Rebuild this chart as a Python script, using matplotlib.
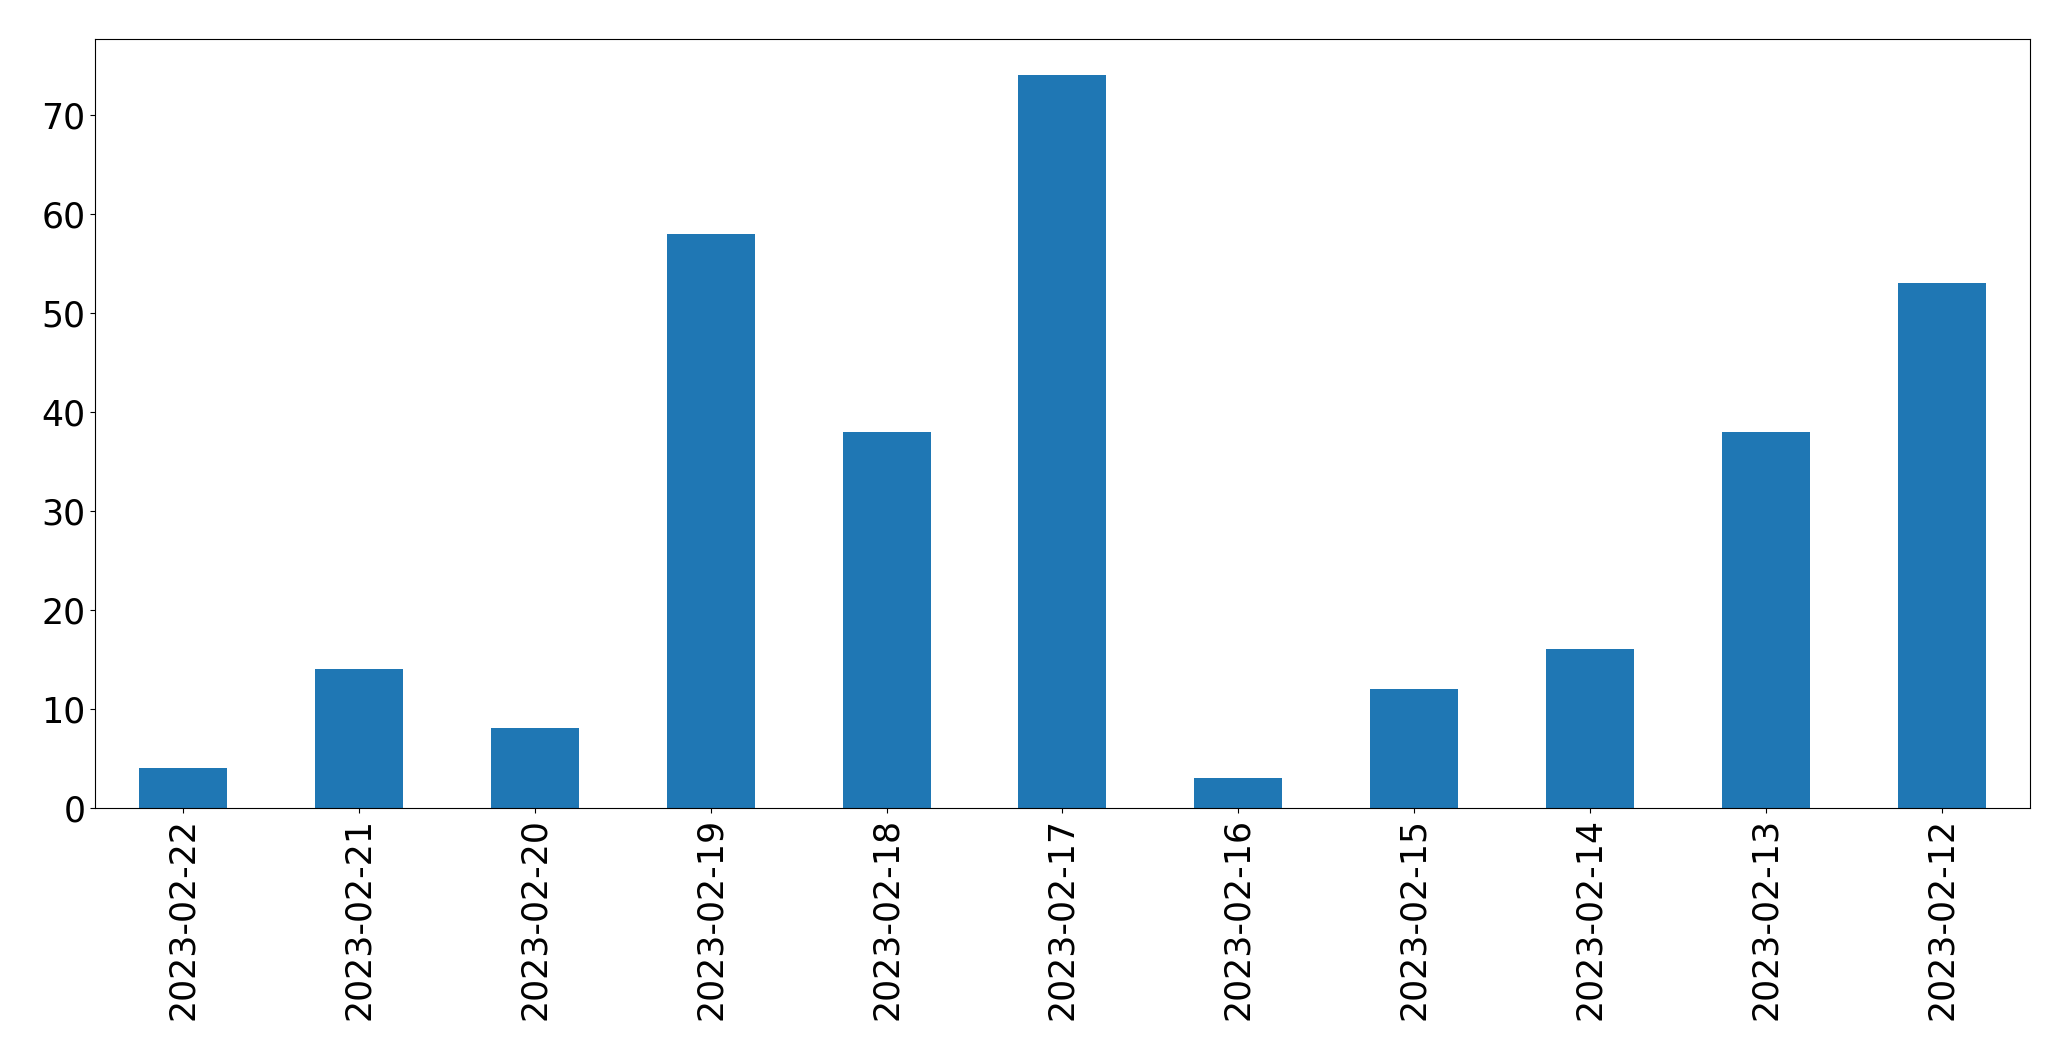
import matplotlib
matplotlib.use('Agg')
import matplotlib.pyplot as plt
import pandas as pd

dates = ['2023-02-22', '2023-02-21', '2023-02-20', '2023-02-19', '2023-02-18', '2023-02-17',
         '2023-02-16', '2023-02-15', '2023-02-14', '2023-02-13', '2023-02-12']
counts = [4, 14, 8, 58, 38, 74, 3, 12, 16, 38, 53]

s = pd.Series(counts, index=dates)

fig, ax = plt.subplots(figsize=(20.71, 10.605), dpi=100)
s.plot(kind='bar', ax=ax, color='#1f77b4')
ax.tick_params(axis='both', labelsize=25)
plt.subplots_adjust(left=0.046, right=0.98, top=0.963, bottom=0.238)
plt.savefig('out.png', dpi=100)
